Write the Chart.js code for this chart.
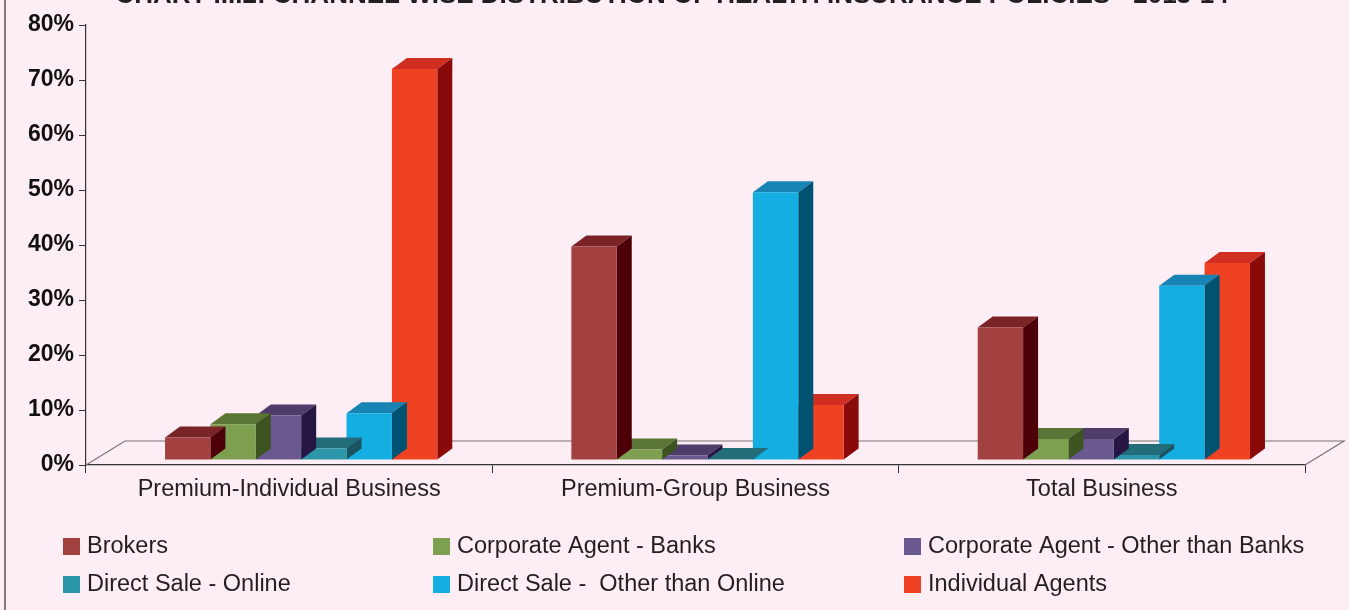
<!DOCTYPE html>
<html>
<head>
<meta charset="utf-8">
<script src="https://cdn.jsdelivr.net/npm/chart.js@4.4.1/dist/chart.umd.min.js"></script>
<style>
  html, body { margin: 0; padding: 0; background: #fdedf4; }
  #wrap { width: 1349px; height: 610px; position: relative; }
</style>
</head>
<body>
<div id="wrap"><canvas id="myChart"></canvas></div>
<script>
// data (percent of policies)
let categories = ["Premium-Individual Business", "Premium-Group Business", "Total Business"];
let yTicks = [0, 10, 20, 30, 40, 50, 60, 70, 80];
let brokers = [4.1, 38.8, 24.1];
let corpBanks = [6.5, 1.9, 3.8];
let corpOther = [8.1, 0.8, 3.8];
let directOnline = [2.1, 0.2, 0.9];
let directOther = [8.5, 48.7, 31.7];
let indAgents = [71.1, 10.0, 35.8];

let titleText = "CHART III.2: CHANNEL WISE DISTRIBUTION OF HEALTH INSURANCE POLICIES - 2013-14";

// front, top, side colours
let shades = [
  ["#a34040", "#7a2428", "#4e0008"],
  ["#7da050", "#5a7535", "#3d5420"],
  ["#6a5890", "#4e3c6a", "#261644"],
  ["#2a96a8", "#236c7a", "#1b5460"],
  ["#14aee2", "#1784b3", "#005272"],
  ["#ef4223", "#cf2e20", "#8a0a0a"]
];

let FONT = "'Liberation Sans', Arial, sans-serif";
let DX = 15, DY = -11;        // bar depth
let SHIFT_X = 12, SHIFT_Y = -5; // bars sit inside the floor

let threeD = {
  id: "threeD",
  beforeDraw(chart) {
    let ctx = chart.ctx;
    // title (cut off at the top in the original)
    ctx.save();
    ctx.fillStyle = "#231f20";
    ctx.font = "bold 26px " + FONT;
    ctx.textAlign = "center";
    ctx.textBaseline = "alphabetic";
    ctx.fillText(titleText, 672, 3);
    // left frame line
    ctx.strokeStyle = "#555";
    ctx.lineWidth = 1.5;
    ctx.beginPath();
    ctx.moveTo(5, 0);
    ctx.lineTo(5, 610);
    ctx.stroke();
    ctx.restore();
  },
  beforeDatasetsDraw(chart) {
    let ctx = chart.ctx;
    let a = chart.chartArea;
    let y0 = chart.scales.y.getPixelForValue(0);
    ctx.save();
    ctx.strokeStyle = "#777";
    ctx.lineWidth = 1.2;
    ctx.beginPath();
    ctx.moveTo(a.left, y0);
    ctx.lineTo(a.left + 39, y0 - 24);
    ctx.lineTo(a.right + 39, y0 - 24);
    ctx.lineTo(a.right, y0);
    ctx.stroke();
    ctx.restore();
    ctx.save();
    ctx.translate(SHIFT_X, SHIFT_Y);
  },
  beforeDatasetDraw(chart, args) {
    let ctx = chart.ctx;
    let meta = chart.getDatasetMeta(args.index);
    let c = shades[args.index];
    meta.data.forEach((bar) => {
      let p = bar.getProps(["x", "y", "base", "width"], true);
      let l = p.x - p.width / 2, r = p.x + p.width / 2;
      ctx.fillStyle = c[1];
      ctx.beginPath();
      ctx.moveTo(l, p.y);
      ctx.lineTo(l + DX, p.y + DY);
      ctx.lineTo(r + DX, p.y + DY);
      ctx.lineTo(r, p.y);
      ctx.closePath();
      ctx.fill();
      ctx.fillStyle = c[2];
      ctx.beginPath();
      ctx.moveTo(r, p.y);
      ctx.lineTo(r + DX, p.y + DY);
      ctx.lineTo(r + DX, p.base + DY);
      ctx.lineTo(r, p.base);
      ctx.closePath();
      ctx.fill();
    });
  },
  afterDatasetsDraw(chart) {
    chart.ctx.restore();
    // legend in three columns
    let ctx = chart.ctx;
    let cols = [63, 433, 904];
    let rows = [546, 584];
    ctx.save();
    ctx.font = "23.5px " + FONT;
    ctx.textBaseline = "middle";
    ctx.textAlign = "left";
    chart.data.datasets.forEach((ds, i) => {
      let x = cols[i % 3], y = rows[Math.floor(i / 3)];
      ctx.fillStyle = ds.backgroundColor;
      ctx.fillRect(x, y - 8, 17, 17);
      ctx.fillStyle = "#231f20";
      ctx.fillText(ds.label, x + 24, y + 1);
    });
    ctx.restore();
  }
};

let mk = (label, data, i) => ({
  label: label,
  data: data,
  backgroundColor: shades[i][0],
  borderWidth: 0,
  categoryPercentage: 0.67,
  barPercentage: 1.0
});

new Chart(document.getElementById("myChart"), {
  type: "bar",
  data: {
    labels: categories,
    datasets: [
      mk("Brokers", brokers, 0),
      mk("Corporate Agent - Banks", corpBanks, 1),
      mk("Corporate Agent - Other than Banks", corpOther, 2),
      mk("Direct Sale - Online", directOnline, 3),
      mk("Direct Sale -  Other than Online", directOther, 4),
      mk("Individual Agents", indAgents, 5)
    ]
  },
  options: {
    responsive: true,
    maintainAspectRatio: false,
    animation: false,
    layout: { padding: { top: 25, right: 44, left: 0, bottom: 0 } },
    plugins: {
      legend: { display: false },
      title: { display: false },
      tooltip: { enabled: false }
    },
    scales: {
      x: {
        grid: { display: true, drawOnChartArea: false, offset: true, tickLength: 8, color: "#333" },
        border: { display: true, color: "#333", width: 1.2 },
        ticks: {
          color: "#231f20",
          padding: 2,
          font: { family: FONT, size: 23.5 }
        },
        afterFit(scale) { scale.height = 145; }
      },
      y: {
        min: 0,
        max: 80,
        afterBuildTicks(scale) { scale.ticks = yTicks.map((v) => ({ value: v })); },
        grid: { display: true, drawOnChartArea: false, tickLength: 7, color: "#333" },
        border: { display: true, color: "#333", width: 1.2 },
        ticks: {
          color: "#111",
          padding: 5,
          font: { family: FONT, size: 23, weight: "bold" },
          callback: (v) => v + "%"
        },
        afterFit(scale) { scale.width = 86; }
      }
    }
  },
  plugins: [threeD]
});
</script>
</body>
</html>
